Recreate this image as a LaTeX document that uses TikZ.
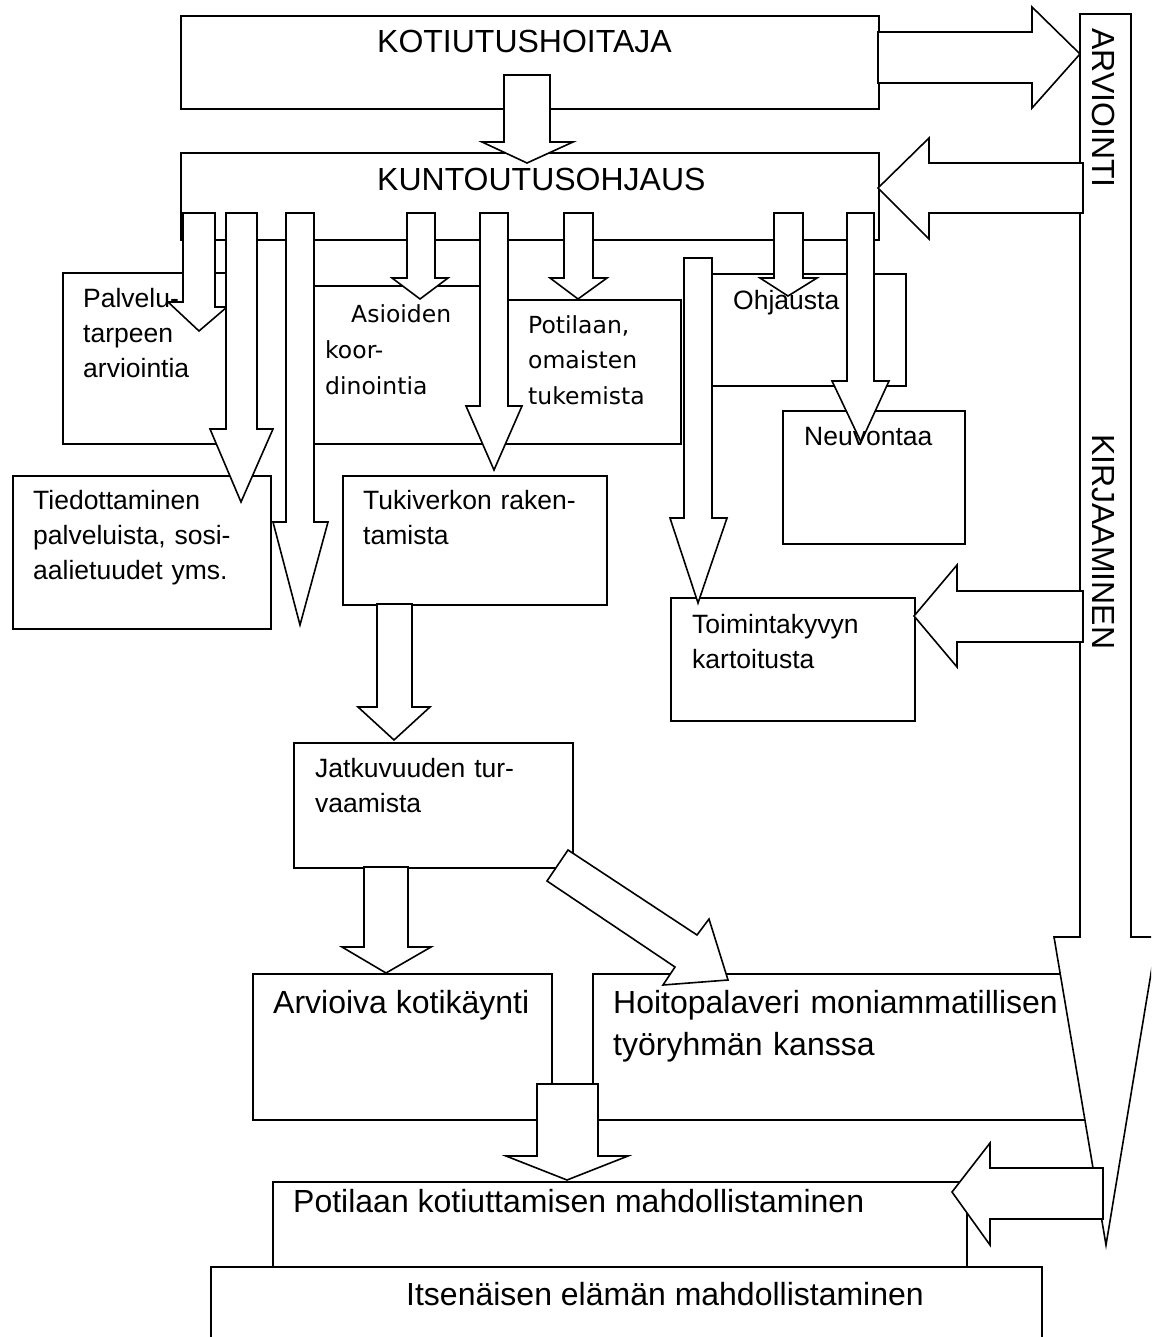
\documentclass[tikz,border=0pt]{standalone}
\usepackage{fontspec}
\setmainfont{Liberation Sans}
\newfontfamily\djv{DejaVu Sans}
\newcommand{\darr}[8]{\draw[blk] (#1,#3) -- (#2,#3) -- (#2,#4) -- (#6,#4) -- (#7,#8) -- (#5,#4) -- (#1,#4) -- cycle;}
\begin{document}
\begin{tikzpicture}[x=1pt,y=-1pt,
  box/.style={draw=black, line width=1.6pt, fill=white, rectangle, inner sep=0pt, anchor=north west},
  blk/.style={draw=black, line width=1.6pt, fill=white, line join=miter},
  big/.style={font=\fontsize{32}{42}\selectfont, inner sep=0pt, anchor=base west},
  bigml/.style={font=\fontsize{32}{42}\selectfont, inner sep=0pt, anchor=base west, text width=520pt, align=left},
  sm/.style={font=\fontsize{26.5}{35}\selectfont, inner sep=0pt, anchor=base west, text width=300pt, align=left},
  dv/.style={font=\djv\fontsize{23.5}{35.5}\selectfont, inner sep=0pt, anchor=base west, text width=300pt, align=left},
]
\useasboundingbox (0,0) rectangle (1151,1337);
\clip (0,0) rectangle (1151,1337);
\fill[white] (0,0) rectangle (1151,1337);

% boxes
\node[box, minimum width=698pt, minimum height=93pt] (koti) at (180,15) {};
\node[box, minimum width=698pt, minimum height=87pt] (kunt) at (180,152) {};
\node[box, minimum width=178pt, minimum height=171pt] (palv) at (62,272) {};
\node[box, minimum width=195pt, minimum height=158pt] (asio) at (300,285) {};
\node[box, minimum width=185pt, minimum height=144pt] (poti) at (495,299) {};
\node[box, minimum width=207pt, minimum height=112pt] (ohja) at (698,273) {};
\node[box, minimum width=182pt, minimum height=133pt] (neuv) at (782,410) {};
\node[box, minimum width=258pt, minimum height=153pt] (tied) at (12,475) {};
\node[box, minimum width=264pt, minimum height=129pt] (tuki) at (342,475) {};
\node[box, minimum width=244pt, minimum height=123pt] (toim) at (670,597) {};
\node[box, minimum width=279pt, minimum height=125pt] (jatk) at (293,742) {};
\node[box, minimum width=299pt, minimum height=146pt] (arvi) at (252,973) {};
\node[box, minimum width=508pt, minimum height=146pt] (hoit) at (592,973) {};
\node[box, minimum width=694pt, minimum height=85pt] (kotiu) at (272,1181) {};
\node[box, minimum width=831pt, minimum height=100pt] (itse) at (210,1266) {};

% ARVIOINTI / KIRJAAMINEN bar arrow
\draw[blk] (1080,14) -- (1131,14) -- (1131,937) -- (1157,937) -- (1106,1245) -- (1054,937) -- (1080,937) -- cycle;

% arrows
\darr{504}{550}{75}{142}{482}{573}{527}{163}
\draw[blk] (183,213) -- (215,213) -- (215,307) -- (227,307) -- (199,331) -- (168,302) -- (183,302) -- cycle;
\darr{226}{257}{213}{429}{210}{273}{241}{502}
\darr{286}{314}{213}{522}{273}{328}{300}{625}
\darr{407}{435}{213}{278}{392}{448}{420}{299}
\darr{480}{508}{213}{406}{466}{522}{494}{470}
\darr{564}{593}{213}{278}{550}{607}{578}{299}
\darr{684}{712}{258}{518}{670}{727}{698}{603}
\darr{774}{803}{213}{278}{760}{817}{788}{296}
\darr{847}{874}{213}{381}{832}{889}{861}{442}
\darr{377}{412}{604}{707}{358}{430}{394}{740}
\darr{364}{408}{867}{947}{342}{431}{386}{973}
\darr{537}{598}{1084}{1156}{506}{628}{567}{1180}
\draw[blk] (568,850) -- (697,935) -- (709,919) -- (728,980) -- (663,985) -- (675,967) -- (547,881) -- cycle;
\draw[blk] (878,32) -- (1032,32) -- (1032,7) -- (1080,54) -- (1032,108) -- (1032,83) -- (878,83) -- cycle;
\draw[blk] (1083,163) -- (929,163) -- (929,138) -- (878,188) -- (929,239) -- (929,213) -- (1083,213) -- cycle;
\draw[blk] (1083,591) -- (957,591) -- (957,565) -- (914,616) -- (957,667) -- (957,642) -- (1083,642) -- cycle;
\draw[blk] (1103,1168) -- (990,1168) -- (990,1143) -- (952,1192) -- (990,1245) -- (990,1219) -- (1103,1219) -- cycle;

% texts
\node[big] (kotiT) at (377,53) {KOTIUTUSHOITAJA};
\node[big] (kuntT) at (377,191) {KUNTOUTUSOHJAUS};
\node[sm] (palvT) at (83,308) {Palvelu-\\tarpeen\\arviointia};
\node[dv] (asioT) at (325,323) {\hspace*{26pt}Asioiden\\koor-\\dinointia};
\node[dv] (potiT) at (528,333) {Potilaan,\\omaisten\\tukemista};
\node[sm] (ohjaT) at (733,309) {Ohjausta};
\node[sm] (neuvT) at (804,445) {Neuvontaa};
\node[sm] (tiedT) at (33,509) {Tiedottaminen\\palveluista, sosi-\\aalietuudet yms.};
\node[sm] (tukiT) at (363,509) {Tukiverkon raken-\\tamista};
\node[sm] (toimT) at (692,633) {Toimintakyvyn\\kartoitusta};
\node[sm] (jatkT) at (315,777) {Jatkuvuuden tur-\\vaamista};
\node[big] (arviT) at (273,1013) {Arvioiva kotikäynti};
\node[bigml] (hoitT) at (613,1013) {Hoitopalaveri moniammatillisen\\työryhmän kanssa};
\node[big] (kotiuT) at (293,1212) {Potilaan kotiuttamisen mahdollistaminen};
\node[big] (itseT) at (406,1305) {Itsenäisen elämän mahdollistaminen};
\node[big, rotate=-90] (arvioT) at (1092,28) {ARVIOINTI};
\node[big, rotate=-90] (kirjT) at (1092,434) {KIRJAAMINEN};
\end{tikzpicture}
\end{document}
